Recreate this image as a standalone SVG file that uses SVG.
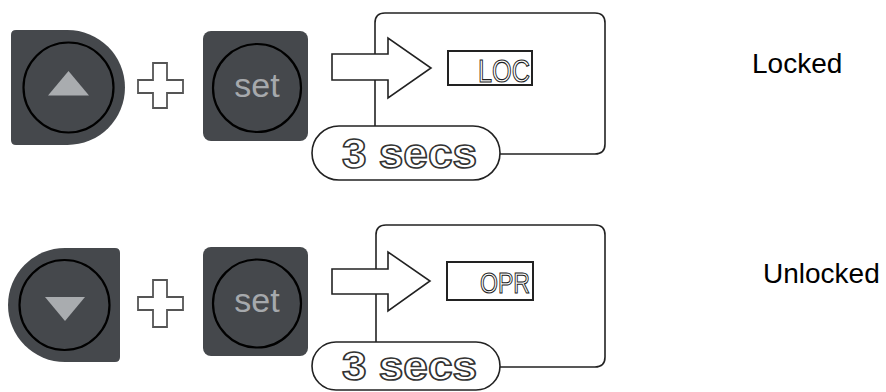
<svg xmlns="http://www.w3.org/2000/svg" width="886" height="392" viewBox="0 0 886 392">
<style>
.btn{fill:#45484c}
.ring{fill:none;stroke:#000;stroke-width:2.2}
.tri{fill:#a9acaf}
.settxt{font-family:"Liberation Sans",Arial,sans-serif;font-size:34px;fill:#a6a9ac;text-anchor:middle}
.plus{fill:#fff;stroke:#555;stroke-width:1.8}
.line{fill:none;stroke:#222;stroke-width:1.6}
.arrow{fill:#fff;stroke:#222;stroke-width:1.6;stroke-linejoin:miter}
.lcd{fill:#fff;stroke:#222;stroke-width:2}
.lcdtxt{font-family:"Liberation Sans",Arial,sans-serif;fill:#fff;stroke:#222;stroke-width:1.1}
.pill{fill:#fff;stroke:#222;stroke-width:1.6}
.secs{font-family:"Liberation Sans",Arial,sans-serif;font-weight:bold;fill:#fff;stroke:#333;stroke-width:1.6}
.label{font-family:"Liberation Sans",Arial,sans-serif;font-size:28px;fill:#000}
</style>
<g id="up-button">
<path class="btn" d="M16,30 H67.5 A57.5,57.5 0 0 1 67.5,145 H16 Q11,145 11,140 V35 Q11,30 16,30 Z"/>
<circle class="ring" cx="68.5" cy="87.5" r="45"/>
<polygon class="tri" points="48,95.5 89,95.5 68.5,71"/>
</g>
<g id="plus-top">
<polygon class="plus" points="153,63 167,63 167,80 183,80 183,93 167,93 167,108 153,108 153,93 138,93 138,80 153,80"/>
</g>
<g id="set-button-top">
<rect class="btn" x="203" y="31" width="105" height="110" rx="8"/>
<circle class="ring" cx="257" cy="88" r="44"/>
<text class="settxt" x="257" y="97">set</text>
</g>
<g id="display-top">
<path class="line" d="M375,126 V23 Q375,13 385,13 H595 Q605,13 605,23 V144 Q605,154 595,154 H500"/>
<polygon class="arrow" points="332,54 388,54 388,38 431,68 388,98 388,80 332,80"/>
<rect class="lcd" x="448" y="51" width="84" height="34"/>
<text class="lcdtxt" x="478" y="82" font-size="32" textLength="52" lengthAdjust="spacingAndGlyphs">LOC</text>
<rect class="pill" x="312" y="126" width="188" height="54" rx="27"/>
<text class="secs" x="342" y="168" font-size="43" textLength="135" lengthAdjust="spacingAndGlyphs">3 secs</text>
</g>
<g id="label-locked">
<text class="label" x="752" y="73">Locked</text>
</g>
<g id="down-button">
<path class="btn" d="M65,248 H115 Q120,248 120,253 V357 Q120,362 115,362 H65 A57,57 0 0 1 65,248 Z"/>
<circle class="ring" cx="64.5" cy="305" r="45"/>
<polygon class="tri" points="45,297 85,297 65,321"/>
</g>
<g id="plus-bottom">
<polygon class="plus" points="153,280 167,280 167,297 183,297 183,310 167,310 167,327 153,327 153,310 138,310 138,297 153,297"/>
</g>
<g id="set-button-bottom">
<rect class="btn" x="203" y="247" width="105" height="109" rx="8"/>
<circle class="ring" cx="257" cy="303.5" r="44"/>
<text class="settxt" x="257" y="312">set</text>
</g>
<g id="display-bottom">
<path class="line" d="M376,342 V235 Q376,225 386,225 H595 Q605,225 605,235 V357 Q605,367 595,367 H500"/>
<polygon class="arrow" points="332,269 388,269 388,252 430,281 388,311 388,294 332,294"/>
<rect class="lcd" x="447" y="262" width="86" height="38"/>
<text class="lcdtxt" x="480" y="293" font-size="29" textLength="50" lengthAdjust="spacingAndGlyphs">OPR</text>
<rect class="pill" x="312" y="342" width="188" height="48" rx="24"/>
<text class="secs" x="342" y="380" font-size="40" textLength="135" lengthAdjust="spacingAndGlyphs">3 secs</text>
</g>
<g id="label-unlocked">
<text class="label" x="763" y="283">Unlocked</text>
</g>
<g id="connectors"></g>
</svg>
